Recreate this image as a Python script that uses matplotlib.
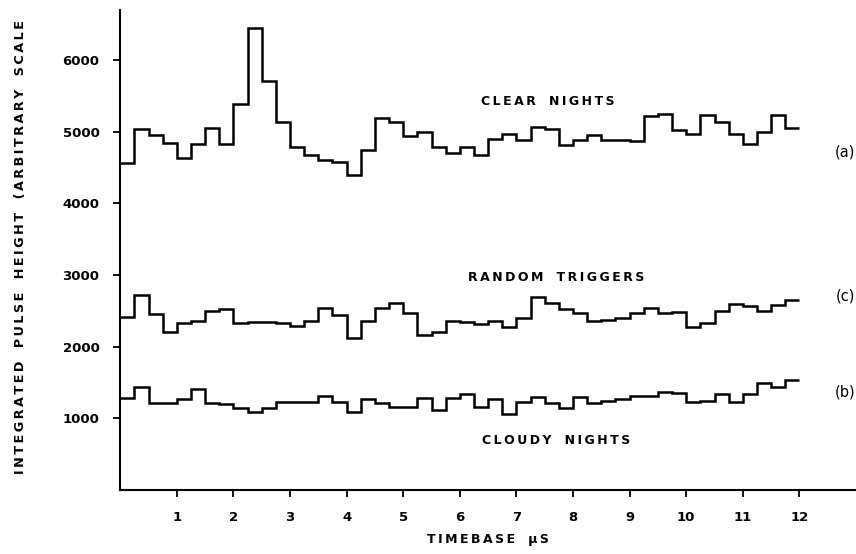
import matplotlib.pyplot as plt
import numpy as np

# 48 bins of 0.25 us from 0 to 12 us
bin_edges = np.arange(49) * 0.25

clear_nights = [4558, 5037, 4949, 4837, 4628, 4823, 5056, 4828,
                5386, 6442, 5707, 5140, 4791, 4674, 4605, 4572,
                4390, 4748, 5189, 5133, 4934, 4994, 4785, 4701,
                4785, 4669, 4901, 4962, 4887, 5064, 5031, 4817,
                4878, 4948, 4878, 4878, 4864, 5212, 5240, 5027,
                4971, 5226, 5133, 4971, 4822, 4994, 5226, 5055]

random_triggers = [2415, 2718, 2462, 2207, 2323, 2355, 2495, 2523,
                   2323, 2337, 2346, 2323, 2290, 2360, 2532, 2435,
                   2114, 2355, 2532, 2602, 2471, 2160, 2198, 2360,
                   2346, 2314, 2355, 2267, 2402, 2690, 2602, 2523,
                   2471, 2355, 2378, 2402, 2476, 2532, 2471, 2485,
                   2276, 2332, 2495, 2588, 2564, 2499, 2578, 2648]

cloudy_nights = [1278, 1431, 1208, 1208, 1264, 1403, 1208, 1199,
                 1138, 1083, 1138, 1231, 1231, 1222, 1310, 1222,
                 1095, 1264, 1217, 1161, 1161, 1287, 1115, 1287,
                 1333, 1161, 1264, 1059, 1231, 1292, 1208, 1138,
                 1301, 1217, 1240, 1264, 1315, 1315, 1361, 1347,
                 1231, 1245, 1333, 1222, 1333, 1496, 1431, 1533]

x_ticks = list(range(1, 13))
y_ticks = [1000, 2000, 3000, 4000, 5000, 6000]


def spaced(s):
    # thin space between letters, wider gap between words
    return '   '.join('\u2009'.join(w) for w in s.split(' '))


fig = plt.figure(figsize=(8.56, 5.54), dpi=100)
ax = fig.add_axes([0.1405, 0.1155, 0.8595, 0.867])

for vals in (clear_nights, random_triggers, cloudy_nights):
    ax.stairs(vals, bin_edges, color='black', linewidth=1.8, baseline=None)

ax.set_xlim(0, 13)
ax.set_ylim(0, 6700)
ax.spines['top'].set_visible(False)
ax.spines['right'].set_visible(False)
ax.spines['left'].set_linewidth(1.5)
ax.spines['bottom'].set_linewidth(1.5)

ax.set_xticks(x_ticks)
ax.set_yticks(y_ticks)
ax.tick_params(length=5, width=1.3, labelsize=9.5, pad=10)
for lab in ax.get_xticklabels() + ax.get_yticklabels():
    lab.set_fontweight('bold')

lbl = dict(fontsize=9, fontweight='bold', ha='center', va='center')
ax.text(7.55, 5420, spaced('CLEAR NIGHTS'), **lbl)
ax.text(7.7, 2960, spaced('RANDOM TRIGGERS'), **lbl)
ax.text(7.7, 697, spaced('CLOUDY NIGHTS'), **lbl)
ax.text(12.99, 4720, '(a)', fontsize=10.5, ha='right', va='center')
ax.text(12.99, 2700, '(c)', fontsize=10.5, ha='right', va='center')
ax.text(12.99, 1370, '(b)', fontsize=10.5, ha='right', va='center')

fig.text(0.0245, 0.554, spaced('INTEGRATED PULSE HEIGHT (ARBITRARY SCALE'),
         rotation=90, fontsize=9.2, fontweight='bold', ha='center', va='center')
fig.text(0.570, 0.014, spaced('TIMEBASE \u03bcS'), fontsize=9, fontweight='bold',
         ha='center', va='bottom')

fig.savefig('out.png', dpi=100)
